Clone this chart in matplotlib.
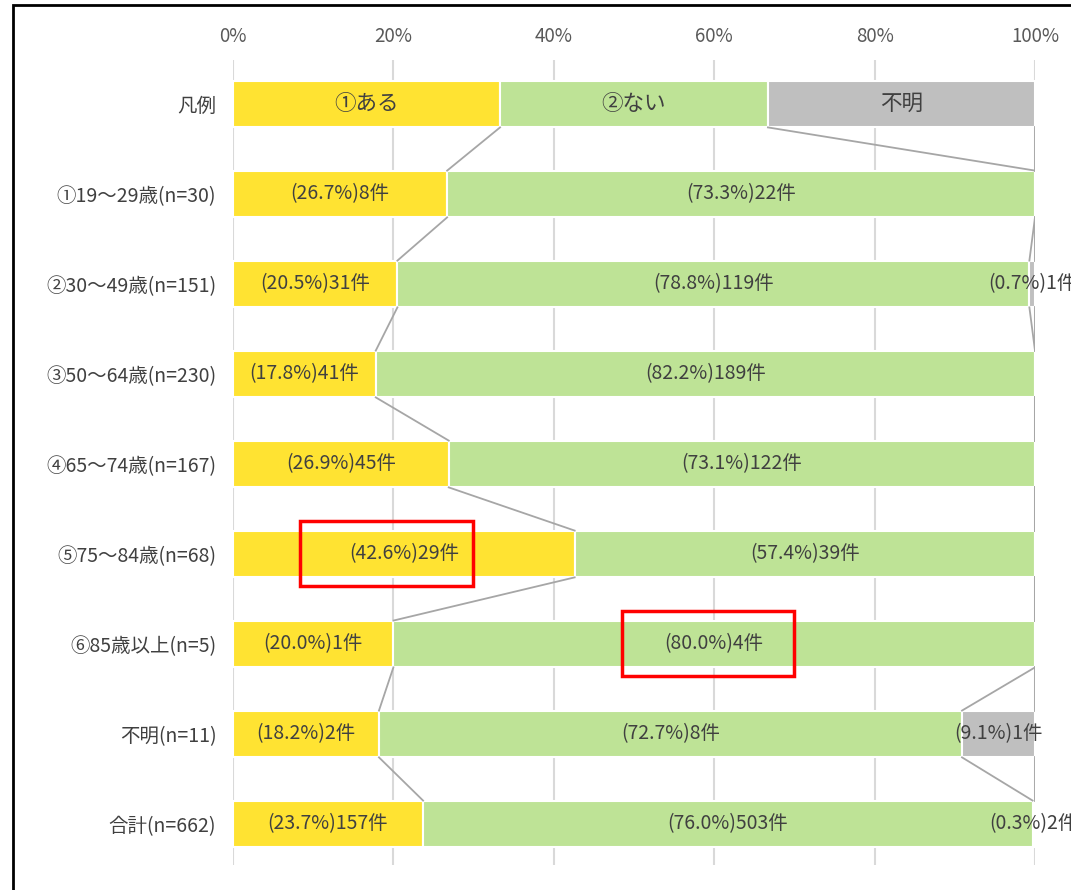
import matplotlib.pyplot as plt
from matplotlib.patches import Rectangle

plt.rcParams['font.family'] = ['Noto Sans CJK JP', 'DejaVu Sans']

# Rows: legend row first, then age groups
categories = ["凡例", "①19～29歳(n=30)", "②30～49歳(n=151)", "③50～64歳(n=230)",
              "④65～74歳(n=167)", "⑤75～84歳(n=68)", "⑥85歳以上(n=5)",
              "不明(n=11)", "合計(n=662)"]
legend_names = ["①ある", "②ない", "不明"]

# percentages per answer (legend row splits evenly)
pct_yes = [33.3, 26.7, 20.5, 17.8, 26.9, 42.6, 20.0, 18.2, 23.7]
pct_no = [33.4, 73.3, 78.8, 82.2, 73.1, 57.4, 80.0, 72.7, 76.0]
pct_unknown = [33.3, 0.0, 0.7, 0.0, 0.0, 0.0, 0.0, 9.1, 0.3]

# counts per answer
cnt_yes = [None, 8, 31, 41, 45, 29, 1, 2, 157]
cnt_no = [None, 22, 119, 189, 122, 39, 4, 8, 503]
cnt_unknown = [None, 0, 1, 0, 0, 0, 0, 1, 2]

ticks = [0, 20, 40, 60, 80, 100]
colors = ["#FFE332", "#BEE396", "#BFBFBF"]
text_color = "#404040"

fig = plt.figure(figsize=(10.71, 8.90), dpi=100)
ax = fig.add_axes([233 / 1071, 1 - 865 / 890, 802 / 1071, 805 / 890])

ys = list(range(len(categories)))
series = [(pct_yes, cnt_yes), (pct_no, cnt_no), (pct_unknown, cnt_unknown)]
bar_h = 0.52

left = [0.0] * len(categories)
bounds = []
for k, (pcts, cnts) in enumerate(series):
    ax.barh(ys, pcts, left=left, height=bar_h, color=colors[k],
            edgecolor="white", linewidth=1.5, zorder=2)
    for i in ys:
        cx = left[i] + pcts[i] / 2
        if i == 0:
            ax.text(cx, i, legend_names[k], ha="center", va="center",
                    fontsize=15.5, color=text_color, zorder=4)
        elif cnts[i]:
            ax.text(cx, i, f"({pcts[i]:.1f}%){cnts[i]}件", ha="center",
                    va="center", fontsize=14, color=text_color, zorder=4)
    left = [l + p for l, p in zip(left, pcts)]
    bounds.append(list(left))

# series lines between neighbouring bars
for b in bounds:
    for i in range(len(categories) - 1):
        ax.plot([b[i], b[i + 1]], [i + bar_h / 2, i + 1 - bar_h / 2],
                color="#A6A6A6", linewidth=1.3, zorder=3)

ax.set_xlim(0, 100)
ax.set_ylim(8.456, -0.489)
ax.set_xticks(ticks)
ax.set_xticklabels([f"{t}%" for t in ticks])
ax.xaxis.tick_top()
ax.tick_params(axis="x", length=0, pad=9, labelsize=13.5, labelcolor="#595959")
ax.set_yticks(ys)
ax.set_yticklabels(categories)
ax.tick_params(axis="y", length=0, pad=12, labelsize=14, labelcolor=text_color)
ax.grid(axis="x", color="#D9D9D9", linewidth=1.5, zorder=0)
ax.set_axisbelow(True)
for s in ax.spines.values():
    s.set_visible(False)

# highlight boxes
for x0, x1, row in [(8.4, 29.9, 5), (48.5, 70.0, 6)]:
    ax.add_patch(Rectangle((x0, row - 0.37), x1 - x0, 0.73, fill=False,
                           edgecolor="#FF0000", linewidth=2.5, zorder=5,
                           clip_on=False))

# frame around the chart
fig.add_artist(Rectangle((13 / 1071, -0.1), 1.2, 1 - 5 / 890 + 0.1,
                         transform=fig.transFigure, fill=False,
                         edgecolor="black", linewidth=2))

fig.savefig("out.png", dpi=100, facecolor="white")
